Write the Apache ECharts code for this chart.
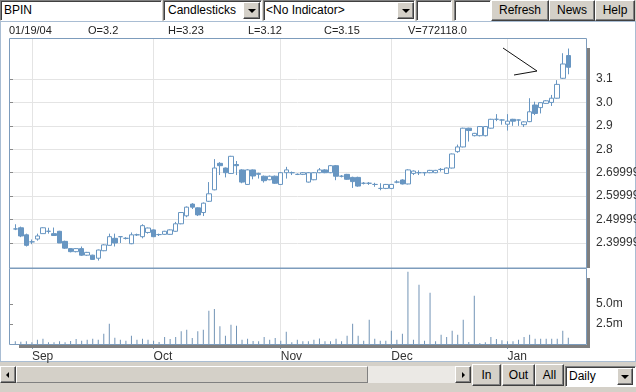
<!DOCTYPE html>
<html>
<head>
<meta charset="utf-8">
<script src="https://cdn.jsdelivr.net/npm/echarts@6.0.0/dist/echarts.min.js"></script>
<style>
html,body{margin:0;padding:0;width:636px;height:392px;overflow:hidden;background:#d4d0c8;font-family:"Liberation Sans",Arial,sans-serif;}
.a{position:absolute;box-sizing:border-box;}
.sunk{background:#fff;border:1px solid;border-color:#808080 #fff #fff #808080;box-shadow:inset 1px 1px 0 #404040;}
.btn{background:#d4d0c8;border:1px solid;border-color:#fff #404040 #404040 #fff;box-shadow:inset -1px -1px 0 #808080;font-size:12px;color:#000;text-align:center;line-height:18px;}
.txt{font-size:12px;color:#000;white-space:nowrap;line-height:19px;}
.dn{position:absolute;width:0;height:0;border-left:4px solid transparent;border-right:4px solid transparent;border-top:4px solid #000;left:50%;top:50%;margin-left:-4px;margin-top:-2px;}
.lt{position:absolute;width:0;height:0;border-top:3px solid transparent;border-bottom:3px solid transparent;border-right:3px solid #000;left:50%;top:50%;margin-left:-2px;margin-top:-3px;}
.rt{position:absolute;width:0;height:0;border-top:3px solid transparent;border-bottom:3px solid transparent;border-left:3px solid #000;left:50%;top:50%;margin-left:-1px;margin-top:-3px;}
#panel{left:0;top:21px;width:636px;height:341px;background:#fff;border:1px solid #a9bdd3;}
#chart{left:0;top:0;width:636px;height:392px;z-index:1;}
.info{font-size:11px;color:#222;top:24px;line-height:13px;white-space:nowrap;z-index:2;}
</style>
</head>
<body>
<div id="panel" class="a"></div>

<!-- top toolbar -->
<div class="a sunk txt" style="left:0;top:0;width:162px;height:21px;padding-left:3px;">BPIN</div>
<div class="a sunk txt" style="left:163px;top:0;width:99px;height:21px;padding-left:4px;">Candlesticks</div>
<div class="a btn" style="left:243px;top:2px;width:17px;height:17px;"><div class="dn"></div></div>
<div class="a sunk txt" style="left:263px;top:0;width:152px;height:21px;padding-left:2px;">&lt;No Indicator&gt;</div>
<div class="a btn" style="left:397px;top:2px;width:17px;height:17px;"><div class="dn"></div></div>
<div class="a sunk" style="left:416px;top:0;width:36px;height:21px;"></div>
<div class="a sunk" style="left:454px;top:0;width:37px;height:21px;"></div>
<div class="a btn" style="left:491px;top:0;width:58px;height:21px;">Refresh</div>
<div class="a btn" style="left:549px;top:0;width:46px;height:21px;">News</div>
<div class="a btn" style="left:595px;top:0;width:40px;height:21px;">Help</div>

<!-- info row -->
<div id="iDate" class="a info" style="left:9px;"></div>
<div id="iO" class="a info" style="left:88px;"></div>
<div id="iH" class="a info" style="left:168px;"></div>
<div id="iL" class="a info" style="left:248px;"></div>
<div id="iC" class="a info" style="left:324px;"></div>
<div id="iV" class="a info" style="left:408px;"></div>

<!-- bottom controls -->
<div class="a btn" style="left:0;top:366px;width:16px;height:17px;"><div class="lt"></div></div>
<div class="a" style="left:16px;top:366px;width:352px;height:17px;background:#d4d0c8;border:1px solid;border-color:#fff #808080 #808080 #fff;"></div>
<div class="a" style="left:368px;top:366px;width:87px;height:17px;background:#ebe9e5;"></div>
<div class="a btn" style="left:455px;top:366px;width:16px;height:17px;"><div class="rt"></div></div>
<div class="a btn" style="left:472px;top:364px;width:29px;height:22px;line-height:20px;">In</div>
<div class="a btn" style="left:502px;top:364px;width:33px;height:22px;line-height:20px;">Out</div>
<div class="a btn" style="left:535px;top:364px;width:29px;height:22px;line-height:20px;">All</div>
<div class="a sunk txt" style="left:565px;top:366px;width:71px;height:21px;padding-left:3px;">Daily</div>
<div class="a btn" style="left:617px;top:368px;width:16px;height:17px;"><div class="dn"></div></div>

<div id="chart" class="a"></div>

<script>
// ---------------- data ----------------
const dates = [
 '08/27/03','08/28/03','08/29/03',
 '09/01/03','09/02/03','09/03/03','09/04/03','09/05/03','09/08/03','09/09/03','09/10/03','09/11/03','09/12/03',
 '09/15/03','09/16/03','09/17/03','09/18/03','09/19/03','09/22/03','09/23/03','09/24/03','09/25/03','09/26/03','09/29/03','09/30/03',
 '10/01/03','10/02/03','10/03/03','10/06/03','10/07/03','10/08/03','10/09/03','10/10/03','10/13/03','10/14/03','10/15/03','10/16/03',
 '10/17/03','10/20/03','10/21/03','10/22/03','10/23/03','10/24/03','10/27/03','10/28/03','10/29/03','10/30/03','10/31/03',
 '11/03/03','11/04/03','11/05/03','11/06/03','11/07/03','11/10/03','11/11/03','11/12/03','11/13/03','11/14/03',
 '11/17/03','11/18/03','11/19/03','11/20/03','11/21/03','11/24/03','11/25/03','11/26/03','11/27/03','11/28/03',
 '12/01/03','12/02/03','12/03/03','12/04/03','12/05/03','12/08/03','12/09/03','12/10/03','12/11/03','12/12/03',
 '12/15/03','12/16/03','12/17/03','12/18/03','12/19/03','12/22/03','12/23/03','12/24/03','12/29/03','12/30/03','12/31/03',
 '01/02/04','01/05/04','01/06/04','01/07/04','01/08/04','01/09/04','01/12/04','01/13/04','01/14/04','01/15/04','01/16/04','01/19/04'
];
const opens = [
 2.46,2.465,2.435,2.405,2.417,2.44,2.45,2.44,2.45,2.407,
 2.376,2.363,2.376,2.348,2.348,2.335,2.367,2.39,2.42,2.427,
 2.42,2.397,2.435,2.427,2.445,2.456,2.436,2.437,2.437,2.45,
 2.482,2.516,2.566,2.55,2.53,2.578,2.627,2.74,2.72,2.697,
 2.735,2.712,2.65,2.712,2.693,2.685,2.67,2.685,2.65,2.70,
 2.70,2.693,2.693,2.66,2.67,2.70,2.712,2.70,2.73,2.685,
 2.693,2.68,2.68,2.655,2.655,2.65,2.633,2.633,2.633,2.66,
 2.669,2.652,2.697,2.70,2.70,2.70,2.70,2.714,2.697,2.72,
 2.79,2.81,2.89,2.858,2.858,2.858,2.89,2.928,2.925,2.907,
 2.928,2.925,2.905,2.918,2.989,2.978,2.996,3.0,3.018,3.103,
 3.2
];
const closes = [
 2.46,2.43,2.39,2.405,2.43,2.465,2.45,2.432,2.40,2.378,
 2.363,2.376,2.348,2.36,2.33,2.37,2.392,2.427,2.40,2.427,
 2.42,2.435,2.435,2.474,2.464,2.427,2.436,2.45,2.456,2.482,
 2.53,2.553,2.553,2.52,2.57,2.61,2.72,2.73,2.70,2.77,
 2.73,2.66,2.712,2.686,2.697,2.666,2.685,2.655,2.70,2.712,
 2.70,2.693,2.70,2.70,2.70,2.712,2.70,2.73,2.685,2.685,
 2.672,2.662,2.643,2.655,2.655,2.65,2.633,2.65,2.65,2.66,
 2.652,2.712,2.707,2.70,2.70,2.71,2.71,2.714,2.72,2.78,
 2.81,2.89,2.88,2.868,2.897,2.897,2.928,2.928,2.925,2.92,
 2.92,2.925,2.917,2.96,2.953,2.999,3.007,3.018,3.077,3.164,
 3.15
];
const lows = [
 2.455,2.425,2.385,2.395,2.41,2.44,2.44,2.43,2.40,2.375,
 2.36,2.36,2.345,2.345,2.328,2.325,2.365,2.39,2.385,2.40,
 2.415,2.395,2.43,2.42,2.44,2.425,2.43,2.435,2.435,2.448,
 2.48,2.51,2.545,2.515,2.515,2.575,2.625,2.69,2.68,2.695,
 2.69,2.655,2.648,2.672,2.675,2.658,2.668,2.652,2.648,2.675,
 2.69,2.69,2.69,2.658,2.668,2.698,2.698,2.698,2.668,2.68,
 2.67,2.635,2.64,2.65,2.648,2.64,2.625,2.63,2.63,2.655,
 2.65,2.65,2.69,2.69,2.687,2.698,2.698,2.705,2.695,2.718,
 2.785,2.808,2.833,2.855,2.855,2.855,2.888,2.92,2.905,2.88,
 2.90,2.90,2.895,2.916,2.946,2.953,2.994,2.985,3.016,3.10,
 3.12
];
const highs = [
 2.48,2.47,2.44,2.415,2.44,2.467,2.465,2.466,2.452,2.41,
 2.378,2.378,2.385,2.362,2.35,2.372,2.395,2.44,2.44,2.428,
 2.425,2.445,2.44,2.48,2.466,2.458,2.44,2.452,2.458,2.49,
 2.532,2.556,2.57,2.552,2.573,2.66,2.758,2.745,2.722,2.772,
 2.75,2.715,2.715,2.714,2.70,2.688,2.688,2.688,2.703,2.725,
 2.705,2.697,2.703,2.703,2.703,2.72,2.715,2.733,2.733,2.69,
 2.695,2.683,2.683,2.66,2.66,2.657,2.655,2.652,2.652,2.668,
 2.672,2.715,2.71,2.71,2.702,2.712,2.712,2.72,2.722,2.782,
 2.82,2.892,2.892,2.87,2.899,2.899,2.93,2.95,2.928,2.95,
 2.93,2.927,2.92,3.018,3.003,3.0,3.01,3.032,3.095,3.21,
 3.23
];
const volumes = [
 330000,290000,330000,210000,540000,670000,210000,210000,330000,210000,
 380000,630000,420000,540000,670000,540000,1290000,2540000,790000,540000,
 420000,1040000,540000,670000,540000,420000,250000,880000,630000,880000,
 1580000,1790000,750000,1580000,1790000,4170000,4380000,2210000,1040000,2420000,
 2290000,540000,670000,380000,330000,880000,540000,750000,420000,1540000,
 210000,540000,330000,330000,540000,700000,330000,330000,670000,330000,
 1040000,2540000,1040000,420000,3040000,670000,420000,420000,1670000,540000,
 1290000,9040000,540000,7420000,420000,6420000,330000,1170000,880000,1670000,
 1170000,3040000,250000,6040000,120000,210000,880000,630000,460000,330000,
 330000,540000,880000,1170000,670000,670000,670000,670000,670000,1670000,
 772118
];
const priceTicks = [2.4,2.5,2.6,2.7,2.8,2.9,3.0,3.1];
const priceTickLabels = ['2.3999999','2.4999999','2.5999999','2.6999999','2.8','2.9','3.0','3.1'];
const volTicks = [2500000,5000000];
const volTickLabels = ['2.5m','5.0m'];
const monthNames = {'01':'Jan','02':'Feb','03':'Mar','04':'Apr','05':'May','06':'Jun','07':'Jul','08':'Aug','09':'Sep','10':'Oct','11':'Nov','12':'Dec'};

// ---------------- info row ----------------
const last = dates.length - 1;
document.getElementById('iDate').textContent = dates[last];
document.getElementById('iO').textContent = 'O=' + opens[last];
document.getElementById('iH').textContent = 'H=' + highs[last];
document.getElementById('iL').textContent = 'L=' + lows[last];
document.getElementById('iC').textContent = 'C=' + closes[last];
document.getElementById('iV').textContent = 'V=' + volumes[last].toFixed(1);

// ---------------- chart ----------------
const ohlc = dates.map((d, i) => [opens[i], closes[i], lows[i], highs[i]]);
const isMonthStart = (i) => i > 0 && dates[i].slice(0, 2) !== dates[i - 1].slice(0, 2);
const PMIN = 2.2933, PMAX = 3.2707, VMAX = 9500000;
const BLUE = '#6896c2';
const GRIDC = '#e4e4e4';
const BOX = '#7d9cbc';

const chart = echarts.init(document.getElementById('chart'), null, {renderer: 'canvas'});
const monthInterval = (i) => isMonthStart(i);
chart.setOption({
  animation: false,
  textStyle: {fontFamily: '"Liberation Sans", Arial, sans-serif'},
  grid: [
    {left: 9, top: 39, width: 577, height: 229, outerBoundsMode: 'none', containLabel: false},
    {left: 9, top: 268, width: 577, height: 76, outerBoundsMode: 'none', containLabel: false},
    {left: 15.3, top: 39, width: 553, height: 229, outerBoundsMode: 'none', containLabel: false},
    {left: 15.3, top: 268, width: 553, height: 76, outerBoundsMode: 'none', containLabel: false}
  ],
  xAxis: [
    {gridIndex: 0, type: 'value', min: 0, max: 1, show: false},
    {gridIndex: 1, type: 'value', min: 0, max: 1, show: false},
    {gridIndex: 2, type: 'category', data: dates, boundaryGap: false,
     axisLine: {show: false}, axisTick: {show: false}, axisLabel: {show: false},
     splitLine: {show: true, interval: monthInterval, lineStyle: {color: GRIDC, width: 1}}},
    {gridIndex: 3, type: 'category', data: dates, boundaryGap: false,
     axisLine: {show: false},
     axisTick: {show: true, interval: monthInterval, length: 5, lineStyle: {color: BOX}},
     axisLabel: {show: true, interval: monthInterval, align: 'left', margin: 7, color: '#333', fontSize: 12,
                 formatter: (v) => monthNames[v.slice(0, 2)]},
     splitLine: {show: true, interval: monthInterval, lineStyle: {color: GRIDC, width: 1}}}
  ],
  yAxis: [
    {gridIndex: 0, type: 'value', position: 'right', min: PMIN, max: PMAX,
     axisLine: {show: false},
     axisTick: {show: true, customValues: priceTicks, length: 4, lineStyle: {color: '#8a8a8a'}},
     axisLabel: {customValues: priceTicks, margin: 10, color: '#333', fontSize: 12, align: 'left',
                 formatter: (v) => { const k = priceTicks.findIndex(t => Math.abs(t - v) < 1e-6); return k >= 0 ? priceTickLabels[k] : ''; }},
     splitLine: {show: true, lineStyle: {color: GRIDC, width: 1}}},
    {gridIndex: 1, type: 'value', position: 'right', min: 0, max: VMAX,
     axisLine: {show: false},
     axisTick: {show: true, customValues: volTicks, length: 4, lineStyle: {color: '#8a8a8a'}},
     axisLabel: {customValues: volTicks, margin: 10, color: '#333', fontSize: 12, align: 'left',
                 formatter: (v) => { const k = volTicks.findIndex(t => Math.abs(t - v) < 1); return k >= 0 ? volTickLabels[k] : ''; }},
     splitLine: {show: false}},
    {gridIndex: 2, type: 'value', min: PMIN, max: PMAX, show: false, splitLine: {show: false}},
    {gridIndex: 3, type: 'value', min: 0, max: VMAX, show: false, splitLine: {show: false}}
  ],
  series: [
    {type: 'candlestick', xAxisIndex: 2, yAxisIndex: 2, data: ohlc, barWidth: 5, clip: false,
     itemStyle: {color: '#ffffff', color0: BLUE, borderColor: BLUE, borderColor0: BLUE, borderColorDoji: BLUE, borderWidth: 1}},
    {type: 'bar', xAxisIndex: 3, yAxisIndex: 3, data: volumes, barWidth: 1,
     itemStyle: {color: '#7294b6'}}
  ],
  graphic: [
    {type: 'rect', silent: true, z: 100, shape: {x: 9.5, y: 38.5, width: 577, height: 229.5}, style: {fill: null, stroke: BOX, lineWidth: 1}},
    {type: 'rect', silent: true, z: 100, shape: {x: 9.5, y: 268.5, width: 577, height: 76}, style: {fill: null, stroke: BOX, lineWidth: 1}},
    {type: 'rect', silent: true, z: 99, shape: {x: 587, y: 48, width: 3, height: 220}, style: {fill: '#7f7f7f'}},
    {type: 'rect', silent: true, z: 99, shape: {x: 587, y: 278, width: 3, height: 70}, style: {fill: '#7f7f7f'}},
    {type: 'rect', silent: true, z: 99, shape: {x: 19, y: 345, width: 571, height: 3}, style: {fill: '#7f7f7f'}},
    {type: 'polyline', silent: true, z: 100, shape: {points: [[503, 48], [537, 71], [514, 75]]}, style: {fill: null, stroke: '#111', lineWidth: 1}}
  ]
});
</script>
</body>
</html>
